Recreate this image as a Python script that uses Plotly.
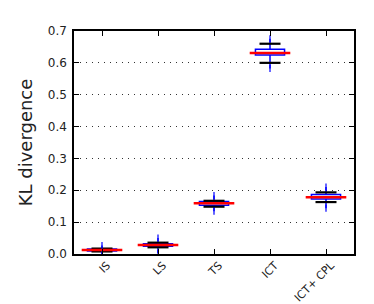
import plotly.graph_objects as go

categories = ["IS", "LS", "TS", "ICT", "ICT+ CPL"]
q1 = [0.0094, 0.024, 0.153, 0.6245, 0.1726]
median = [0.0125, 0.028, 0.159, 0.631, 0.178]
q3 = [0.0157, 0.032, 0.165, 0.643, 0.187]
cap_low = [0.008, 0.021, 0.1485, 0.600, 0.163]
cap_high = [0.017, 0.0356, 0.167, 0.660, 0.1935]
flier_low = [0.0, 0.003, 0.134, 0.582, 0.144]
flier_high = [0.027, 0.050, 0.184, 0.676, 0.210]

xs = list(range(1, len(categories) + 1))
blue = "#0000ff"

fig = go.Figure()
fig.add_trace(go.Box(
    x=xs, q1=q1, median=median, q3=q3,
    lowerfence=flier_low, upperfence=flier_high,
    line=dict(color=blue, width=1.5), fillcolor="white",
    marker=dict(color=blue),
    whiskerwidth=0, width=0.52, boxpoints=False, hoverinfo="skip",
))
# caps
fig.add_trace(go.Scatter(
    x=xs + xs, y=cap_low + cap_high, mode="markers",
    marker=dict(symbol="line-ew-open", size=15, color="black",
                line=dict(color="black", width=2.2)),
    hoverinfo="skip",
))
# flier ends
fig.add_trace(go.Scatter(
    x=xs + xs, y=flier_low + flier_high, mode="markers",
    marker=dict(symbol="line-ns-open", size=5, color=blue,
                line=dict(color=blue, width=1.2)),
    hoverinfo="skip",
))
# medians
fig.add_trace(go.Scatter(
    x=xs, y=median, mode="markers",
    marker=dict(symbol="line-ew-open", size=29, color="red",
                line=dict(color="red", width=2.5)),
    hoverinfo="skip",
))

fig.update_layout(
    width=366, height=296,
    margin=dict(l=66, r=20, t=23, b=50, autoexpand=False),
    paper_bgcolor="white", plot_bgcolor="white",
    showlegend=False,
    font=dict(family="DejaVu Sans", color="#222222"),
)
fig.update_xaxes(
    range=[0.5, 5.5], tickmode="array", tickvals=xs, ticktext=categories,
    tickangle=-45, ticks="inside", ticklen=5, tickcolor="black",
    showline=True, linecolor="black", linewidth=1.5, mirror="ticks",
    showgrid=False, zeroline=False, tickfont=dict(size=11), automargin=False,
    ticklabelshift=5, ticklabelstandoff=-1,
)
fig.update_yaxes(
    range=[0, 0.7], tickvals=[0, 0.1, 0.2, 0.3, 0.4, 0.5, 0.6, 0.7],
    tickformat=".1f", ticks="inside", ticklen=5, tickcolor="black",
    showline=True, linecolor="black", linewidth=1.5, mirror="ticks",
    showgrid=True, gridcolor="#333333", griddash="1px,5px", gridwidth=1.2,
    zeroline=False, tickfont=dict(size=12), automargin=False,
    ticklabelstandoff=3,
    title=dict(text="KL divergence", font=dict(size=18), standoff=10),
)

fig.write_html("out.html")
